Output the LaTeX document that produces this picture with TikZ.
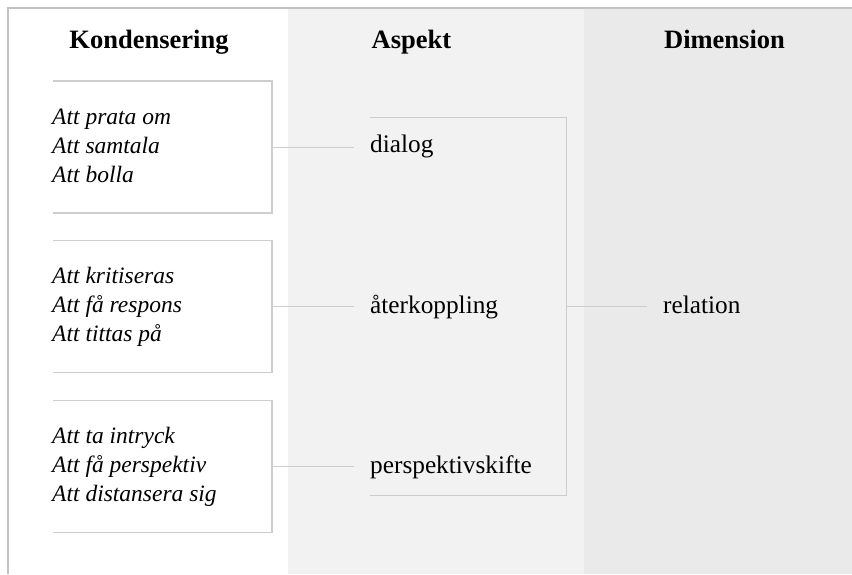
\documentclass[tikz,border=0pt]{standalone}
\usepackage{fontspec}
\setmainfont{LiberationSerif}[Extension=.ttf, UprightFont=*-Regular, BoldFont=*-Bold, ItalicFont=*-Italic, BoldItalicFont=*-BoldItalic]
\usetikzlibrary{fit}
\definecolor{colA}{HTML}{F2F2F2}
\definecolor{colB}{HTML}{EAEAEA}
\definecolor{lineC}{HTML}{CDCDCD}
\definecolor{frameC}{HTML}{C2C2C2}
\begin{document}
\begin{tikzpicture}[x=1pt,y=-1pt,
  head/.style={font=\fontsize{26.5}{30}\selectfont\bfseries, inner sep=0, anchor=base},
  boxshape/.style={rectangle, minimum width=219pt, minimum height=132pt, inner sep=0, outer sep=0},
  itext/.style={font=\fontsize{23.5}{28.7}\selectfont\itshape, align=left, inner sep=0, anchor=west},
  asp/.style={font=\fontsize{25.3}{29}\selectfont, inner sep=0, anchor=base west},
  conn/.style={draw=lineC, line width=1pt},
  edge/.style={draw=lineC, line width=1.1pt}]
\useasboundingbox (0,0) rectangle (852,574);
\fill[white] (0,0) rectangle (852,574);
\fill[colA] (288,8) rectangle (584,574);
\fill[colB] (584,8) rectangle (852,574);
\draw[frameC, line width=1.5pt] (8,574) -- (8,8) -- (852,8);
% headers
\node[head] (hK) at (149,48) {Kondensering};
\node[head] (hA) at (411.5,48) {Aspekt};
\node[head] (hD) at (724.5,48) {Dimension};
% boxes
\node[boxshape] (b1) at (162.5,147) {};
\node[boxshape] (b2) at (162.5,306.5) {};
\node[boxshape] (b3) at (162.5,466.5) {};
\foreach \b in {b1,b2,b3}
  \draw[edge] (\b.north west) -- (\b.north east) -- (\b.south east) -- (\b.south west);
\node[itext] (k1) at (52,146) {Att prata om\\Att samtala\\Att bolla};
\node[itext] (k2) at (52,307) {Att kritiseras\\Att få respons\\Att tittas på};
\node[itext] (k3) at (52,467) {Att ta intryck\\Att få perspektiv\\Att distansera sig};
% aspects
\node[asp] (a1) at (370,152) {dialog};
\node[asp] (a2) at (370,313) {återkoppling};
\node[asp] (a3) at (370,473) {perspektivskifte};
\draw[conn] (b1.east) -- ([xshift=-16pt]b1.east -| a1.west);
\draw[conn] (b2.east) -- ([xshift=-16pt]b2.east -| a2.west);
\draw[conn] (b3.east) -- ([xshift=-16pt]b3.east -| a3.west);
% bracket
\coordinate (bt) at (370,117);
\coordinate (bb) at (566,495);
\node[fit=(bt)(bb), inner sep=0, outer sep=0] (br) {};
\draw[conn] (br.north west) -- (br.north east) -- (br.south east) -- (br.south west);
% dimension
\node[asp] (rel) at (663,313) {relation};
\draw[conn] (br.east) -- ([xshift=-16pt]br.east -| rel.west);
\end{tikzpicture}
\end{document}
